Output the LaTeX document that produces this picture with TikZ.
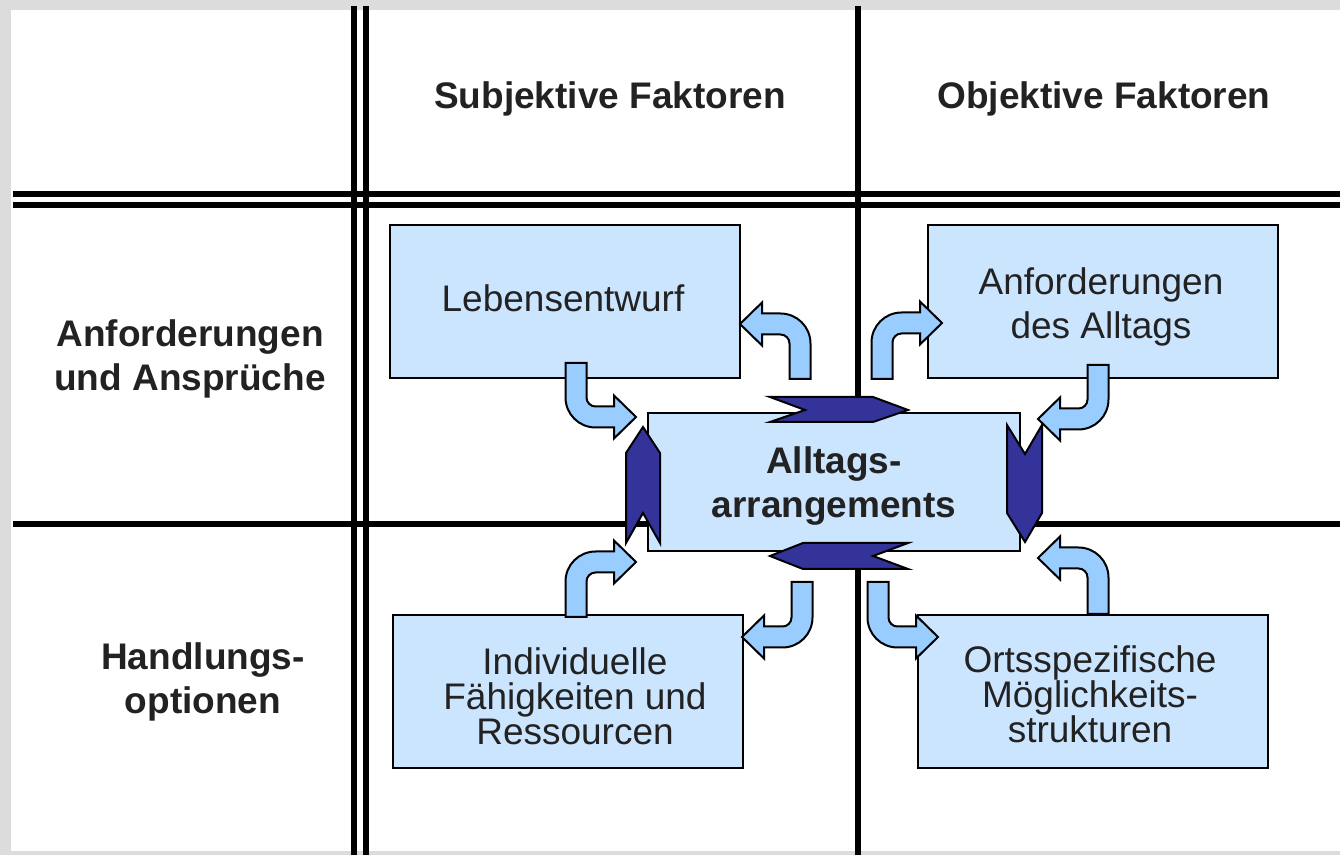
\documentclass[tikz,border=0pt]{standalone}
\usepackage{fontspec}
\setmainfont{Liberation Sans}
\definecolor{boxfill}{HTML}{CCE5FF}
\definecolor{arrfill}{HTML}{99CCFF}
\definecolor{chev}{HTML}{333399}
\definecolor{txt}{HTML}{222222}
\definecolor{bg}{HTML}{DCDCDC}
\begin{document}
\begin{tikzpicture}[x=0.5pt,y=-0.5pt,
  gridline/.style={line width=3pt, draw=black},
  fbox/.style={draw=black, line width=1pt, fill=boxfill, minimum width=175pt, minimum height=76.5pt, inner sep=0pt},
  boxtxt/.style={text=txt, align=center, inner sep=0pt},
  regtwo/.style={font=\fontsize{18.5}{22}\selectfont},
  regthree/.style={font=\fontsize{18.5}{17.5}\selectfont},
  boldtxt/.style={text=txt, align=center, inner sep=0pt, font=\fontsize{18.5}{22}\selectfont\bfseries},
  chevshape/.style={fill=chev, draw=black, line width=1pt, line join=miter},
  barrow/.pic={
    \filldraw[fill=arrfill, draw=black, line width=1pt]
      (-10.5,0) -- (-10.5,#1-19.5)
      .. controls (-10.5,#1-2.93) and (2.93,#1+10.5) .. (19.5,#1+10.5)
      -- (38,#1+10.5) -- (38,#1+21.5) -- (60,#1) -- (38,#1-21.5) -- (38,#1-10.5)
      -- (19.5,#1-10.5)
      .. controls (14.53,#1-10.5) and (10.5,#1-14.53) .. (10.5,#1-19.5)
      -- (10.5,0) -- cycle;
  }
]
\useasboundingbox (0,0) rectangle (1340,855);
\fill[bg] (0,0) rectangle (1340,855);
\fill[white] (11,10) rectangle (1340,851);

% grid
\coordinate (v1t) at (354,6);  \coordinate (v1b) at (354,855);
\coordinate (v2t) at (366,6);  \coordinate (v2b) at (366,855);
\coordinate (v3t) at (858,6);  \coordinate (v3b) at (858,855);
\coordinate (h1l) at (13,194); \coordinate (h1r) at (1340,194);
\coordinate (h2l) at (13,205); \coordinate (h2r) at (1340,205);
\coordinate (h3l) at (13,524); \coordinate (h3r) at (1340,524);
\draw[gridline] (v1t) -- (v1b);
\draw[gridline] (v2t) -- (v2b);
\draw[gridline] (v3t) -- (v3b);
\draw[gridline] (h1l) -- (h1r);
\draw[gridline] (h2l) -- (h2r);
\draw[gridline] (h3l) -- (h3r);

% headers
\node[boldtxt] (subj) at (610,99) {Subjektive Faktoren};
\node[boldtxt] (obj) at (1104,99) {Objektive Faktoren};
\node[boldtxt] (anspr) at (190,359) {Anforderungen\\und Ansprüche};
\node[boldtxt] (handl) at (203,682) {Handlungs-\\optionen};

% boxes
\node[fbox] (leb) at (565,301.5) {};
\node[fbox] (anf) at (1103,301.5) {};
\node[fbox] (ind) at (568,691.5) {};
\node[fbox] (ort) at (1093,691.5) {};
\node[fbox, minimum width=186pt, minimum height=69pt] (all) at (834,482) {};

\node[boxtxt, regtwo, xshift=-1pt, yshift=1.5pt] (lebt) at (leb.center) {Lebensentwurf};
\node[boxtxt, regtwo, xshift=-1pt, yshift=-2.5pt] (anft) at (anf.center) {Anforderungen\\des Alltags};
\node[boxtxt, regthree, xshift=3.5pt, yshift=-2.5pt] (indt) at (ind.center) {Individuelle\\Fähigkeiten und\\Ressourcen};
\node[boxtxt, regthree, xshift=-1.5pt, yshift=-1.3pt] (ortt) at (ort.center) {Ortsspezifische\\Möglichkeits-\\strukturen};
\node[boxtxt, font=\fontsize{18.5}{22}\selectfont\bfseries, yshift=-2pt] (allt) at (all.center) {Alltags-\\arrangements};

% chevrons
\filldraw[chevshape] (770,397) -- (873,397) -- (908,410) -- (873,422) -- (770,422) -- (805,410) -- cycle;
\filldraw[chevshape] (770,556) -- (803,543) -- (908,543) -- (873,556) -- (908,569) -- (803,569) -- cycle;
\filldraw[chevshape] (643,427) -- (660,453) -- (660,543) -- (643,513) -- (626,543) -- (626,453) -- cycle;
\filldraw[chevshape] (1007,425) -- (1025,454) -- (1042,425) -- (1042,513) -- (1025,542) -- (1007,513) -- cycle;

% bent arrows
\pic at (576,363) {barrow=54};
\pic[xscale=-1,yscale=-1] at (800,379) {barrow=55};
\pic[yscale=-1] at (882,379) {barrow=56};
\pic[xscale=-1] at (1098,365) {barrow=54};
\pic[yscale=-1] at (576,617) {barrow=55};
\pic[xscale=-1] at (802,582) {barrow=55};
\pic at (878,582) {barrow=55};
\pic[xscale=-1,yscale=-1] at (1098,614) {barrow=56};
\end{tikzpicture}
\end{document}
